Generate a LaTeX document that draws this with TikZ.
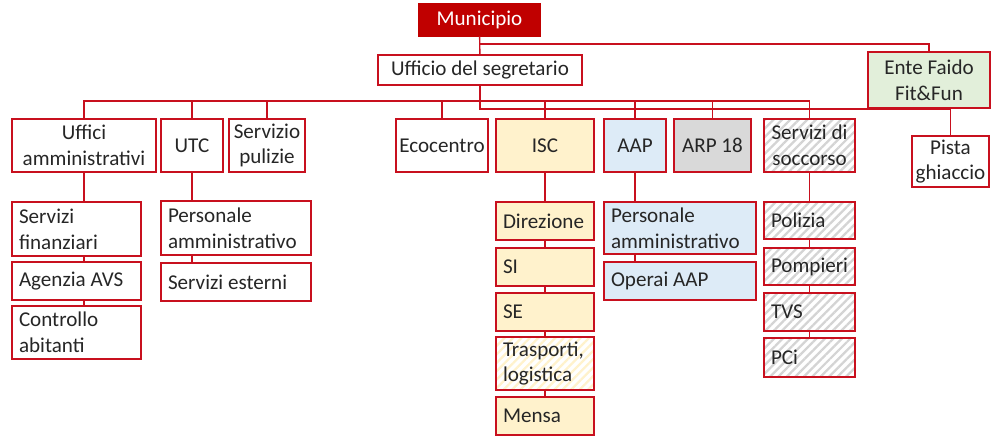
\documentclass[tikz,border=0pt]{standalone}
\usepackage{fontspec}
\setmainfont{Carlito}
\usepackage{tikz}
\usetikzlibrary{patterns.meta}
\definecolor{myred}{RGB}{200,16,30}
\definecolor{mydark}{RGB}{38,38,38}
\definecolor{munred}{RGB}{192,0,0}
\definecolor{iscyellow}{RGB}{255,242,204}
\definecolor{aapblue}{RGB}{221,235,247}
\definecolor{arpgray}{RGB}{217,217,217}
\definecolor{entegreen}{RGB}{226,239,218}
\definecolor{hatchgray}{RGB}{212,212,212}
\tikzset{
  unit/.style={draw=myred, line width=0.8pt, text=mydark,
    inner ysep=0pt, outer sep=0pt, font=\fontsize{12}{14.7}\selectfont},
  cbox/.style 2 args={unit, align=center, inner xsep=0.04cm,
    minimum width=#1, minimum height=#2},
  lbox/.style 2 args={unit, align=flush left, inner xsep=0.14cm,
    text width=#1, minimum height=#2},
  stripes/.style={pattern={Lines[angle=45,distance=3.4pt,line width=1.3pt]},
    pattern color=#1},
  link/.style={draw=myred, line width=0.8pt}
}

\begin{document}
\begin{tikzpicture}[x=0.02cm, y=-0.02cm]
    \useasboundingbox (0,0) rectangle (1000,437);

    % Top
    \node[cbox={2.42cm}{0.64cm}, fill=munred, draw=munred, text=white] (mun) at (479.5,20) {Municipio};
    \node[cbox={4.08cm}{0.60cm}] (seg) at (480,70) {Ufficio del segretario};
    \node[cbox={2.44cm}{1.12cm}, fill=entegreen] (ente) at (929,80) {Ente Faido\\Fit\&Fun};

    % First level
    \node[cbox={2.88cm}{1.06cm}] (uffamm) at (84,145.5) {Uffici\\amministrativi};
    \node[cbox={1.24cm}{1.06cm}] (utc) at (192,145.5) {UTC};
    \node[cbox={1.52cm}{1.06cm}] (pul) at (267,145.5) {Servizio\\pulizie};
    \node[cbox={1.84cm}{1.06cm}] (eco) at (442,145.5) {Ecocentro};
    \node[cbox={1.96cm}{1.06cm}, fill=iscyellow] (isc) at (545,145.5) {ISC};
    \node[cbox={1.24cm}{1.06cm}, fill=aapblue] (aap) at (635,145.5) {AAP};
    \node[cbox={1.54cm}{1.06cm}, fill=arpgray] (arp) at (712.5,145.5) {ARP 18};
    \node[cbox={1.82cm}{1.06cm}, stripes=hatchgray] (socc) at (809.5,145.5) {Servizi di\\soccorso};
    \node[cbox={1.54cm}{1.02cm}] (pista) at (950.5,161.5) {Pista\\ghiaccio};

    % Uffici amministrativi / UTC
    \node[lbox={2.30cm}{1.08cm}] (fin) at (76.5,229) {Servizi\\finanziari};
    \node[lbox={2.30cm}{0.76cm}] (avs) at (76.5,281) {Agenzia AVS};
    \node[lbox={2.30cm}{1.06cm}] (ctrl) at (76.5,332.5) {Controllo\\abitanti};
    \node[lbox={2.72cm}{1.08cm}] (persutc) at (236,228) {Personale\\amministrativo};
    \node[lbox={2.72cm}{0.76cm}] (est) at (236,282) {Servizi esterni};

    % ISC
    \node[lbox={1.68cm}{0.76cm}, fill=iscyellow] (dir) at (545,221) {Direzione};
    \node[lbox={1.68cm}{0.76cm}, fill=iscyellow] (si) at (545,267) {SI};
    \node[lbox={1.68cm}{0.76cm}, fill=iscyellow] (se) at (545,312) {SE};
    \node[lbox={1.68cm}{1.06cm}, stripes=iscyellow] (tra) at (545,363.5) {Trasporti,\\logistica};
    \node[lbox={1.68cm}{0.76cm}, fill=iscyellow] (men) at (545,416) {Mensa};

    % AAP
    \node[lbox={2.76cm}{1.04cm}, fill=aapblue] (persaap) at (680,228) {Personale\\amministrativo};
    \node[lbox={2.76cm}{0.76cm}, fill=aapblue] (ope) at (680,281) {Operai AAP};

    % Servizi di soccorso
    \node[lbox={1.54cm}{0.74cm}, stripes=hatchgray] (pol) at (809.5,220.5) {Polizia};
    \node[lbox={1.54cm}{0.74cm}, stripes=hatchgray] (pom) at (809.5,266.5) {Pompieri};
    \node[lbox={1.54cm}{0.76cm}, stripes=hatchgray] (tvs) at (809.5,312) {TVS};
    \node[lbox={1.54cm}{0.78cm}, stripes=hatchgray] (pci) at (809.5,357.5) {PCi};

    % Buses
    \coordinate (topbus) at (480,44);
    \coordinate (midbus) at (480,101);
    \coordinate (lowbus) at (480,109);

    \draw[link] (mun) -- (seg);
    \draw[link] (topbus) -| (ente.north);
    \draw[link] (seg.south) -- (lowbus) -| (pista.north);
    \draw[link] (uffamm.north) |- (midbus) -| (socc.north);
    \foreach \n in {utc,pul,eco,isc,aap,arp}
      \draw[link] (\n.north) -- (\n.north |- midbus);

    % Children
    \foreach \p/\a/\b in {uffamm/uffamm/fin, uffamm/fin/avs, uffamm/avs/ctrl,
        utc/utc/persutc, utc/persutc/est,
        isc/isc/dir, isc/dir/si, isc/si/se, isc/se/tra, isc/tra/men,
        aap/aap/persaap, aap/persaap/ope,
        socc/socc/pol, socc/pol/pom, socc/pom/tvs, socc/tvs/pci}
      \draw[link] (\p |- \a.south) -- (\p |- \b.north);
  \end{tikzpicture}
\end{document}
